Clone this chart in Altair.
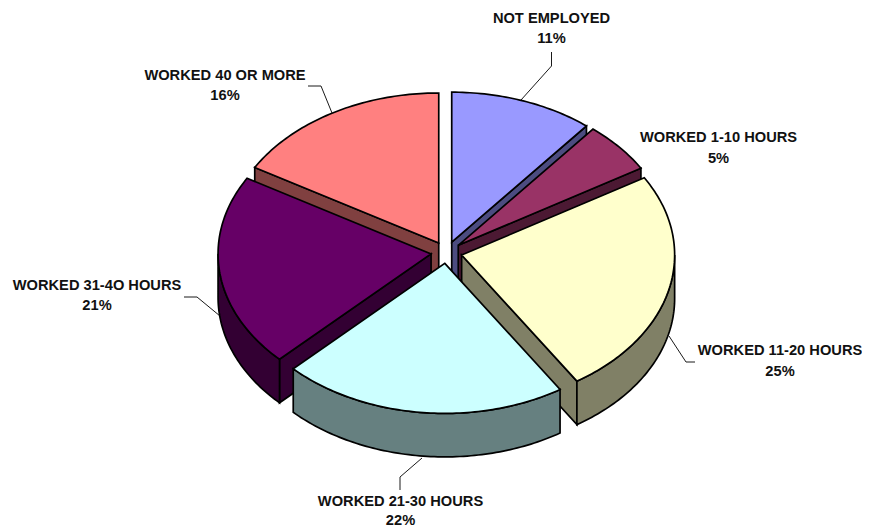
import math
import altair as alt

categories = ["NOT EMPLOYED", "WORKED 1-10 HOURS", "WORKED 11-20 HOURS",
              "WORKED 21-30 HOURS", "WORKED 31-4O HOURS", "WORKED 40 OR MORE"]
shares = [10.9, 5.5, 24.5, 21.7, 20.8, 16.6]
percent_labels = ["11%", "5%", "25%", "22%", "21%", "16%"]
top_colors = ["#9999FF", "#993366", "#FFFFCC", "#CCFFFF", "#660066", "#FF8080"]
side_colors = ["#4C4C80", "#4C1933", "#808066", "#668080", "#330033", "#804040"]
paint_order = [5, 0, 1, 2, 4, 3]
label_x = [543.5, 710.5, 772, 392.5, 89, 217]
label_y1 = [11, 130, 343, 494, 277.5, 68]
label_y2 = [31, 151, 364, 513, 298, 88]
leaders = [
    [(543.5, 44), (543.5, 58), (513, 92)],
    [],
    [(687, 354), (678, 354), (661, 328)],
    [(392, 482), (392, 469), (414, 450)],
    [(176, 289), (189, 289), (212, 308)],
    [(300, 78), (313, 78), (324, 105)],
]

CX, CY = 438.5, 244.5
RX, RY = 213.0, 150.0
DEPTH = 43.5
EXPLODE = 0.073


def rim(ax, ay, deg, dz=0.0):
    t = math.radians(deg)
    return [ax + RX * math.sin(t), ay - RY * math.cos(t) + dz]


def arc(ax, ay, d1, d2, dz=0.0):
    n = max(2, int(abs(d2 - d1)) + 1)
    return [rim(ax, ay, d1 + (d2 - d1) * i / n, dz) for i in range(n + 1)]


def feature(points, color):
    ring = [list(p) for p in points]
    ring.append(ring[0])
    return {"type": "Feature",
            "geometry": {"type": "Polygon", "coordinates": [ring]},
            "properties": {"fill": color}}


total = sum(shares)
starts, cum = [], 0.0
for s in shares:
    starts.append(cum / total * 360)
    cum += s

features = []
for i in paint_order:
    d1 = starts[i]
    d2 = d1 + shares[i] / total * 360
    mid = math.radians((d1 + d2) / 2)
    ax = CX + EXPLODE * RX * math.sin(mid)
    ay = CY - EXPLODE * RY * math.cos(mid)
    if math.sin(math.radians(d1)) < -0.001:
        features.append(feature([[ax, ay], rim(ax, ay, d1), rim(ax, ay, d1, DEPTH), [ax, ay + DEPTH]], side_colors[i]))
    if math.sin(math.radians(d2)) > 0.001:
        features.append(feature([[ax, ay], rim(ax, ay, d2), rim(ax, ay, d2, DEPTH), [ax, ay + DEPTH]], side_colors[i]))
    lo, hi = max(d1, 90), min(d2, 270)
    if lo < hi:
        features.append(feature(arc(ax, ay, lo, hi) + arc(ax, ay, hi, lo, DEPTH), side_colors[i]))
    features.append(feature([[ax, ay]] + arc(ax, ay, d1, d2), top_colors[i]))

projection = dict(type="identity", scale=1, translate=[0, 0])

slices = alt.Chart(alt.Data(values=features)).mark_geoshape(
    stroke="black", strokeWidth=1.7, strokeJoin="miter"
).encode(fill=alt.Fill("properties.fill:N", scale=None)).project(**projection)

leader_features = [
    {"type": "Feature",
     "geometry": {"type": "LineString", "coordinates": [list(p) for p in line]},
     "properties": {"category": categories[i]}}
    for i, line in enumerate(leaders) if line
]
leader_layer = alt.Chart(alt.Data(values=leader_features)).mark_geoshape(
    filled=False, stroke="#1a1a1a", strokeWidth=1
).project(**projection)

rows = []
for i, c in enumerate(categories):
    rows.append({"x": label_x[i], "y": label_y1[i], "t": c})
    rows.append({"x": label_x[i], "y": label_y2[i], "t": percent_labels[i]})

labels = alt.Chart(alt.Data(values=rows)).mark_text(
    font="Liberation Sans", fontWeight="bold", fontSize=14.67, color="#111111",
    align="center", baseline="middle"
).encode(
    x=alt.X("x:Q", scale=None),
    y=alt.Y("y:Q", scale=None),
    text="t:N",
)

chart = alt.layer(leader_layer, slices, labels).properties(
    width=854, height=521, padding=0, background="white",
    autosize=alt.AutoSizeParams(type="none")
).configure_view(stroke=None)

chart.save("out.html", embed_options={"renderer": "svg", "actions": False})
